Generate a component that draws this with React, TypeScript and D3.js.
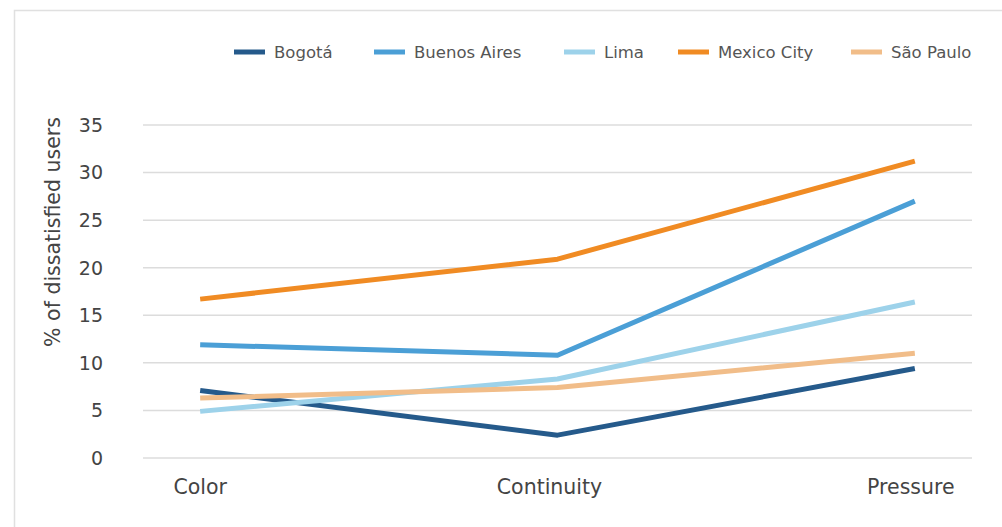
import React from "react";
import * as d3 from "d3";

const categories = ["Color", "Continuity", "Pressure"];
const seriesNames = ["Bogotá", "Buenos Aires", "Lima", "Mexico City", "São Paulo"];
const bogota = [7.1, 2.4, 9.4];
const buenosAires = [11.9, 10.8, 27.0];
const lima = [4.9, 8.3, 16.4];
const mexicoCity = [16.7, 20.9, 31.2];
const saoPaulo = [6.3, 7.4, 11.0];
const seriesColors = ["#255a8b", "#4b9fd6", "#9dd2ea", "#f08b23", "#f1bd89"];
const yTicks = [0, 5, 10, 15, 20, 25, 30, 35];

const W = 1002;
const H = 527;
const FONT = "'DejaVu Sans', 'Open Sans', sans-serif";

export default function App() {
  const values = [bogota, buenosAires, lima, mexicoCity, saoPaulo];
  const x = d3.scalePoint<string>().domain(categories).range([143, 972]).padding(0.16);
  const y = d3.scaleLinear().domain([0, 35]).range([458, 125]);
  const line = d3
    .line<number>()
    .x((_, i) => x(categories[i]) as number)
    .y((d) => y(d));

  const legendX = [234, 374, 564, 678, 851];
  const catShift = [0, -8, -4];

  return (
    <svg
      width={W}
      height={H}
      style={{ position: "absolute", left: 0, top: 0, display: "block" }}
      fontFamily={FONT}
    >
      <rect x={0} y={0} width={W} height={H} fill="#fff" />
      <path d={`M14.5,${H} V10.5 H${W}`} fill="none" stroke="#e0e0e0" strokeWidth={1.5} />
      {yTicks.map((t) => (
        <g key={t}>
          <line x1={143} x2={972} y1={y(t)} y2={y(t)} stroke="#dcdcdc" strokeWidth={1.5} />
          <text x={103} y={y(t)} dy="0.36em" textAnchor="end" fontSize={19} fill="#444">
            {t}
          </text>
        </g>
      ))}
      <text
        transform={`translate(60,232) rotate(-90)`}
        textAnchor="middle"
        fontSize={20.5}
        fill="#444"
      >
        % of dissatisfied users
      </text>
      {categories.map((c, i) => (
        <text
          key={c}
          x={(x(c) as number) + catShift[i]}
          y={487}
          dy="0.36em"
          textAnchor="middle"
          fontSize={20.5}
          fill="#444"
        >
          {c}
        </text>
      ))}
      {values.map((v, i) => (
        <path
          key={seriesNames[i]}
          d={line(v) as string}
          fill="none"
          stroke={seriesColors[i]}
          strokeWidth={5}
          strokeLinejoin="round"
        />
      ))}
      {seriesNames.map((n, i) => (
        <g key={n}>
          <line
            x1={legendX[i]}
            x2={legendX[i] + 31}
            y1={52}
            y2={52}
            stroke={seriesColors[i]}
            strokeWidth={5}
          />
          <text x={legendX[i] + 40} y={52} dy="0.36em" fontSize={16.5} fill="#555">
            {n}
          </text>
        </g>
      ))}
    </svg>
  );
}
